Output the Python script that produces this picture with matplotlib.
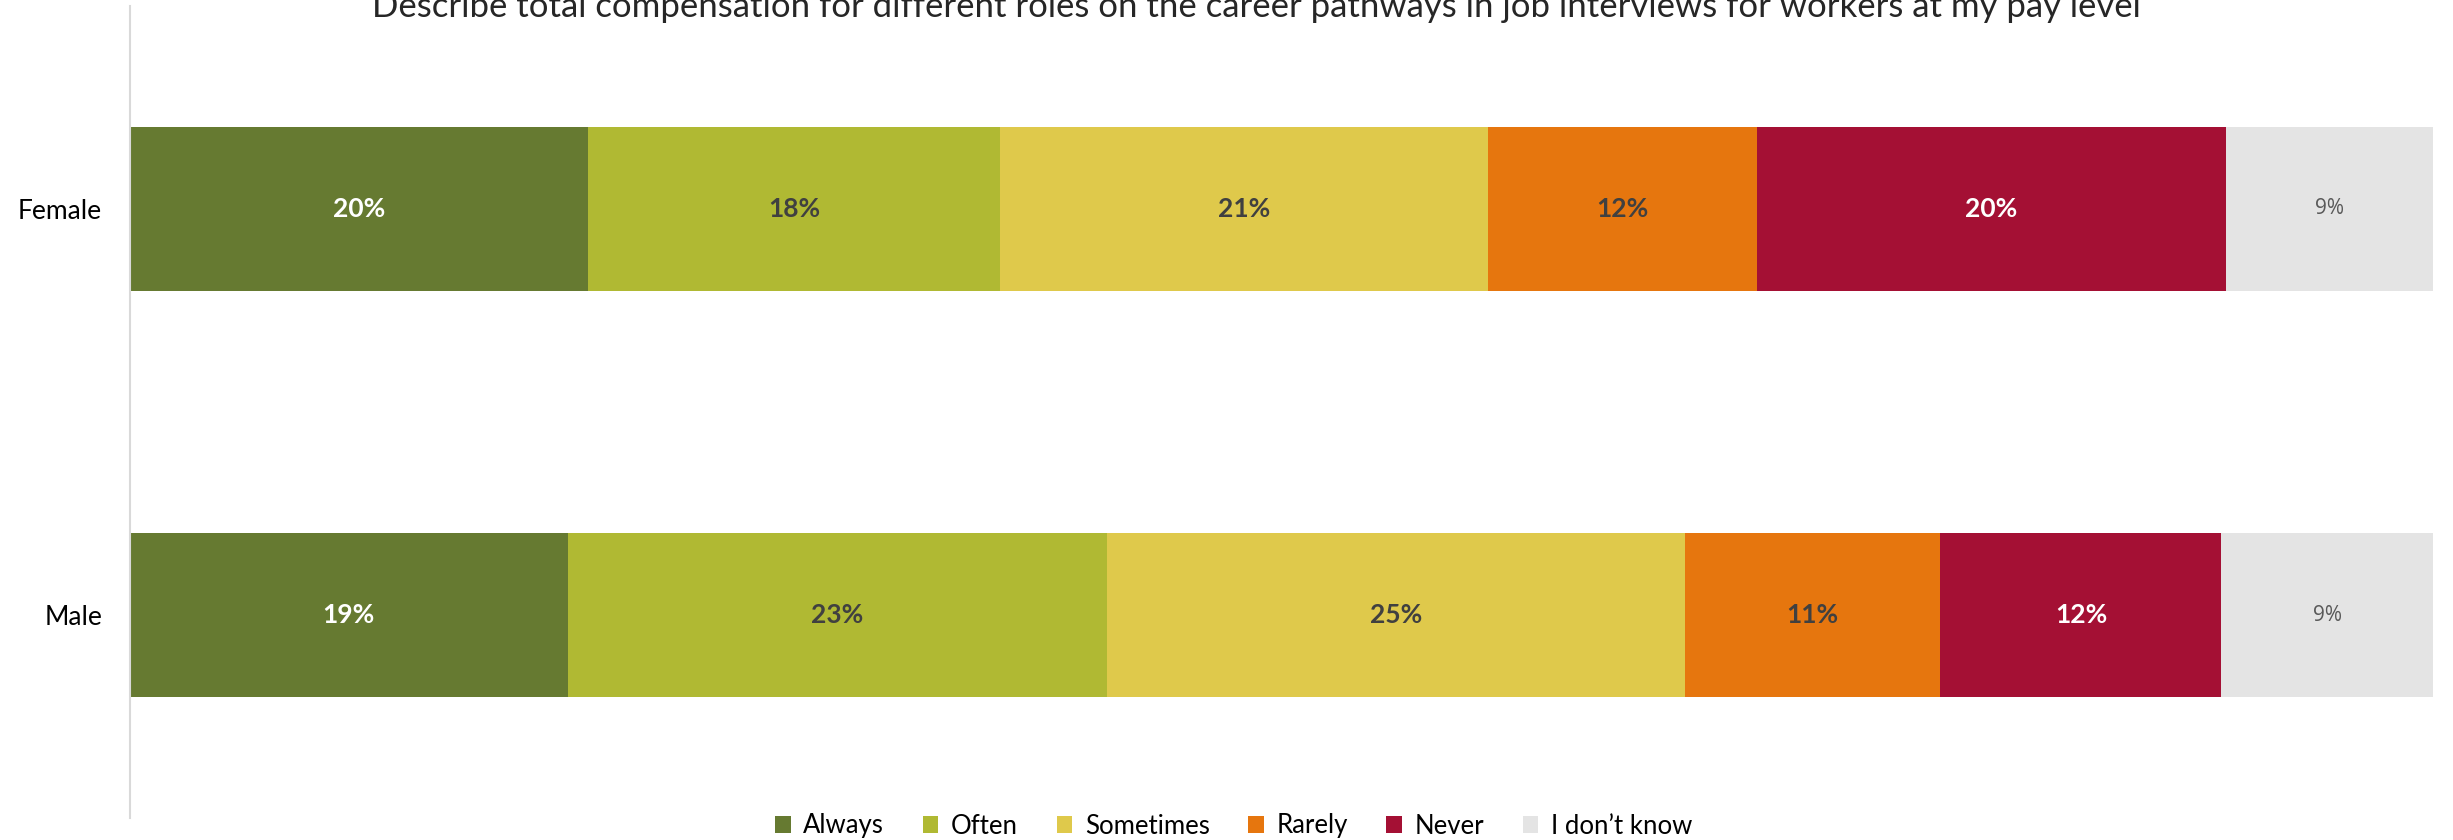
import numpy as np
import matplotlib
matplotlib.use("Agg")
import matplotlib.pyplot as plt

plt.rcParams['font.family'] = ['Lato', 'DejaVu Sans']

groups = ['Female', 'Male']
answers = ['Always', 'Often', 'Sometimes', 'Rarely', 'Never', 'I don\u2019t know']
female = [19.9, 17.9, 21.2, 11.7, 20.4, 9.0]
male = [19.0, 23.4, 25.1, 11.1, 12.2, 9.2]
title = ("Describe total compensation for different roles on the career pathways "
         "in job interviews for workers at my pay level")

colors = ['#667a31', '#b0b933', '#dfc94b', '#e6760e', '#a41034', '#e4e4e4']
label_colors = ['white', '#404040', '#404040', '#404040', 'white', '#595959']

data = np.array([female, male])
data = data / data.sum(axis=1, keepdims=True) * 100

fig = plt.figure(figsize=(24.53, 8.4), dpi=100)
ax = fig.add_axes([0.053, 0.026, 0.939, 0.967])

y = np.arange(len(groups))
left = np.zeros(len(groups))
for i, name in enumerate(answers):
    vals = data[:, i]
    ax.barh(y, vals, left=left, height=0.404, color=colors[i], label=name,
            edgecolor='none')
    for j in range(len(groups)):
        raw = [female, male][j][i]
        if i == len(answers) - 1:
            ax.text(left[j] + vals[j] / 2, y[j], '%d%%' % round(raw),
                    ha='center', va='center', fontsize=15,
                    color=label_colors[i], family=['Open Sans', 'DejaVu Sans'])
        else:
            ax.text(left[j] + vals[j] / 2, y[j], '%d%%' % round(raw),
                    ha='center', va='center', fontsize=19, fontweight='bold',
                    color=label_colors[i])
    left += vals

ax.set_xlim(0, 100)
ax.set_ylim(1.5, -0.5)
ax.set_yticks(y)
ax.set_yticklabels(groups, fontsize=19)
ax.tick_params(axis='y', length=0, pad=20)
ax.set_xticks([])
for s in ['top', 'right', 'bottom']:
    ax.spines[s].set_visible(False)
ax.spines['left'].set_color('#d9d9d9')
ax.spines['left'].set_linewidth(1.5)

fig.text(0.512, 1 - 17 / 840, title, ha='center', va='baseline', fontsize=25,
         color='#262626')

leg = fig.legend(loc='center', bbox_to_anchor=(0.503, 1 - 826 / 840), ncol=6,
                 frameon=False, fontsize=18.5, handlelength=0.6, handleheight=0.6,
                 handletextpad=0.5, columnspacing=1.5)

fig.savefig('out.png', dpi=100)
